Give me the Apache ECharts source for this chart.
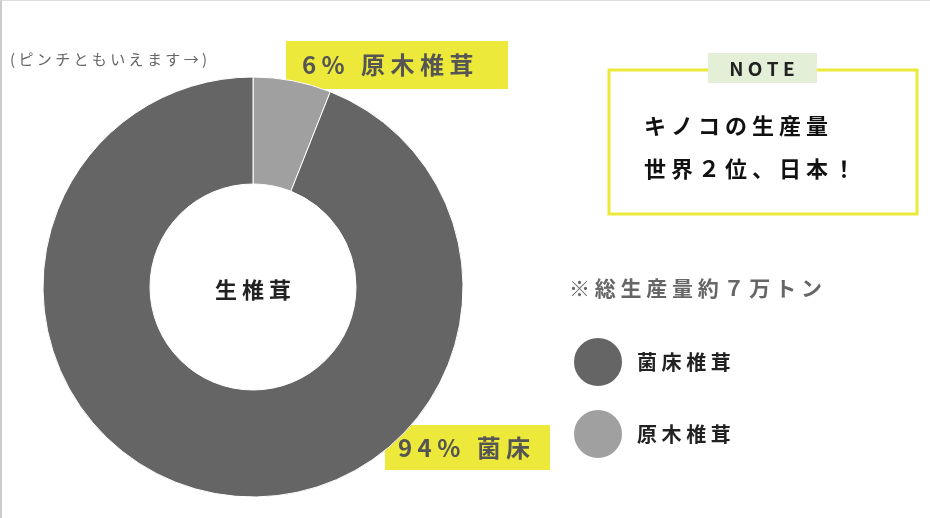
<!DOCTYPE html><html><head><meta charset="utf-8">
<script src="https://cdn.jsdelivr.net/npm/echarts@6/dist/echarts.min.js"></script>
<style>html,body{margin:0;padding:0;background:#fff}#c{width:930px;height:518px;box-sizing:border-box;border-left:2px solid #ccc;border-top:1px solid #ddd}</style>
</head><body><div id="c"></div><script>
const categories=['原木椎茸','菌床椎茸'];
const values=[6,94];
const colors=['#a0a0a0','#646564'];
const centerText='生椎茸';
const noteLines=['キノコの生産量','世界２位、日本！'];
const totalText='※総生産量約７万トン';
const sp=s=>s.split('').join(' ');
const F='"Noto Sans CJK JP", sans-serif';
const chart=echarts.init(document.getElementById('c'));
chart.setOption({
 animation:false,
 color:colors,
 legend:{orient:'vertical',left:565,top:330,itemWidth:50,itemHeight:50,itemGap:20,icon:'circle',
  data:[categories[1],categories[0]],formatter:n=>'  '+sp(n),
  textStyle:{fontSize:20,fontWeight:'bold',color:'#222',fontFamily:F}},
 series:[{type:'pie',center:[251,286],radius:[103,210],startAngle:90,clockwise:true,
  label:{show:false},labelLine:{show:false},
  itemStyle:{borderColor:'#fff',borderWidth:1},
  data:categories.map((c,i)=>({name:c,value:values[i]}))}],
 graphic:[
  {type:'text',left:'center',x:0,style:{text:''}},
  {type:'text',x:251,y:289,style:{text:sp(centerText),font:'bold 22px '+F,fill:'#222',align:'center',verticalAlign:'middle'}},
  {type:'text',x:8,y:58,style:{text:sp('(ピンチともいえます→)'),font:'15px '+F,fill:'#666',verticalAlign:'middle'}},
  {type:'rect',shape:{x:284,y:40,width:222,height:48},style:{fill:'#ece93a'}},
  {type:'text',x:300,y:64,style:{text:sp(values[0]+'% '+categories[0]),font:'bold 24px '+F,fill:'#555',verticalAlign:'middle'}},
  {type:'rect',shape:{x:383,y:424,width:165,height:45},style:{fill:'#ece93a'}},
  {type:'text',x:396,y:447,style:{text:sp(values[1]+'% '+categories[1].slice(0,2)),font:'bold 24px '+F,fill:'#555',verticalAlign:'middle'}},
  {type:'rect',shape:{x:607,y:69,width:308,height:144},style:{fill:'none',stroke:'#ece93a',lineWidth:3}},
  {type:'rect',shape:{x:706,y:52,width:109,height:30},style:{fill:'#e3efd6'}},
  {type:'text',x:760,y:68,style:{text:sp('NOTE'),font:'bold 19px '+F,fill:'#222',align:'center',verticalAlign:'middle'}},
  {type:'text',x:642,y:125,style:{text:sp(noteLines[0]),font:'bold 22px '+F,fill:'#111',verticalAlign:'middle'}},
  {type:'text',x:642,y:168,style:{text:sp(noteLines[1]),font:'bold 22px '+F,fill:'#111',verticalAlign:'middle'}},
  {type:'text',x:567,y:287,style:{text:sp(totalText),font:'bold 21px '+F,fill:'#666',verticalAlign:'middle'}}
 ]
});
</script></body></html>
